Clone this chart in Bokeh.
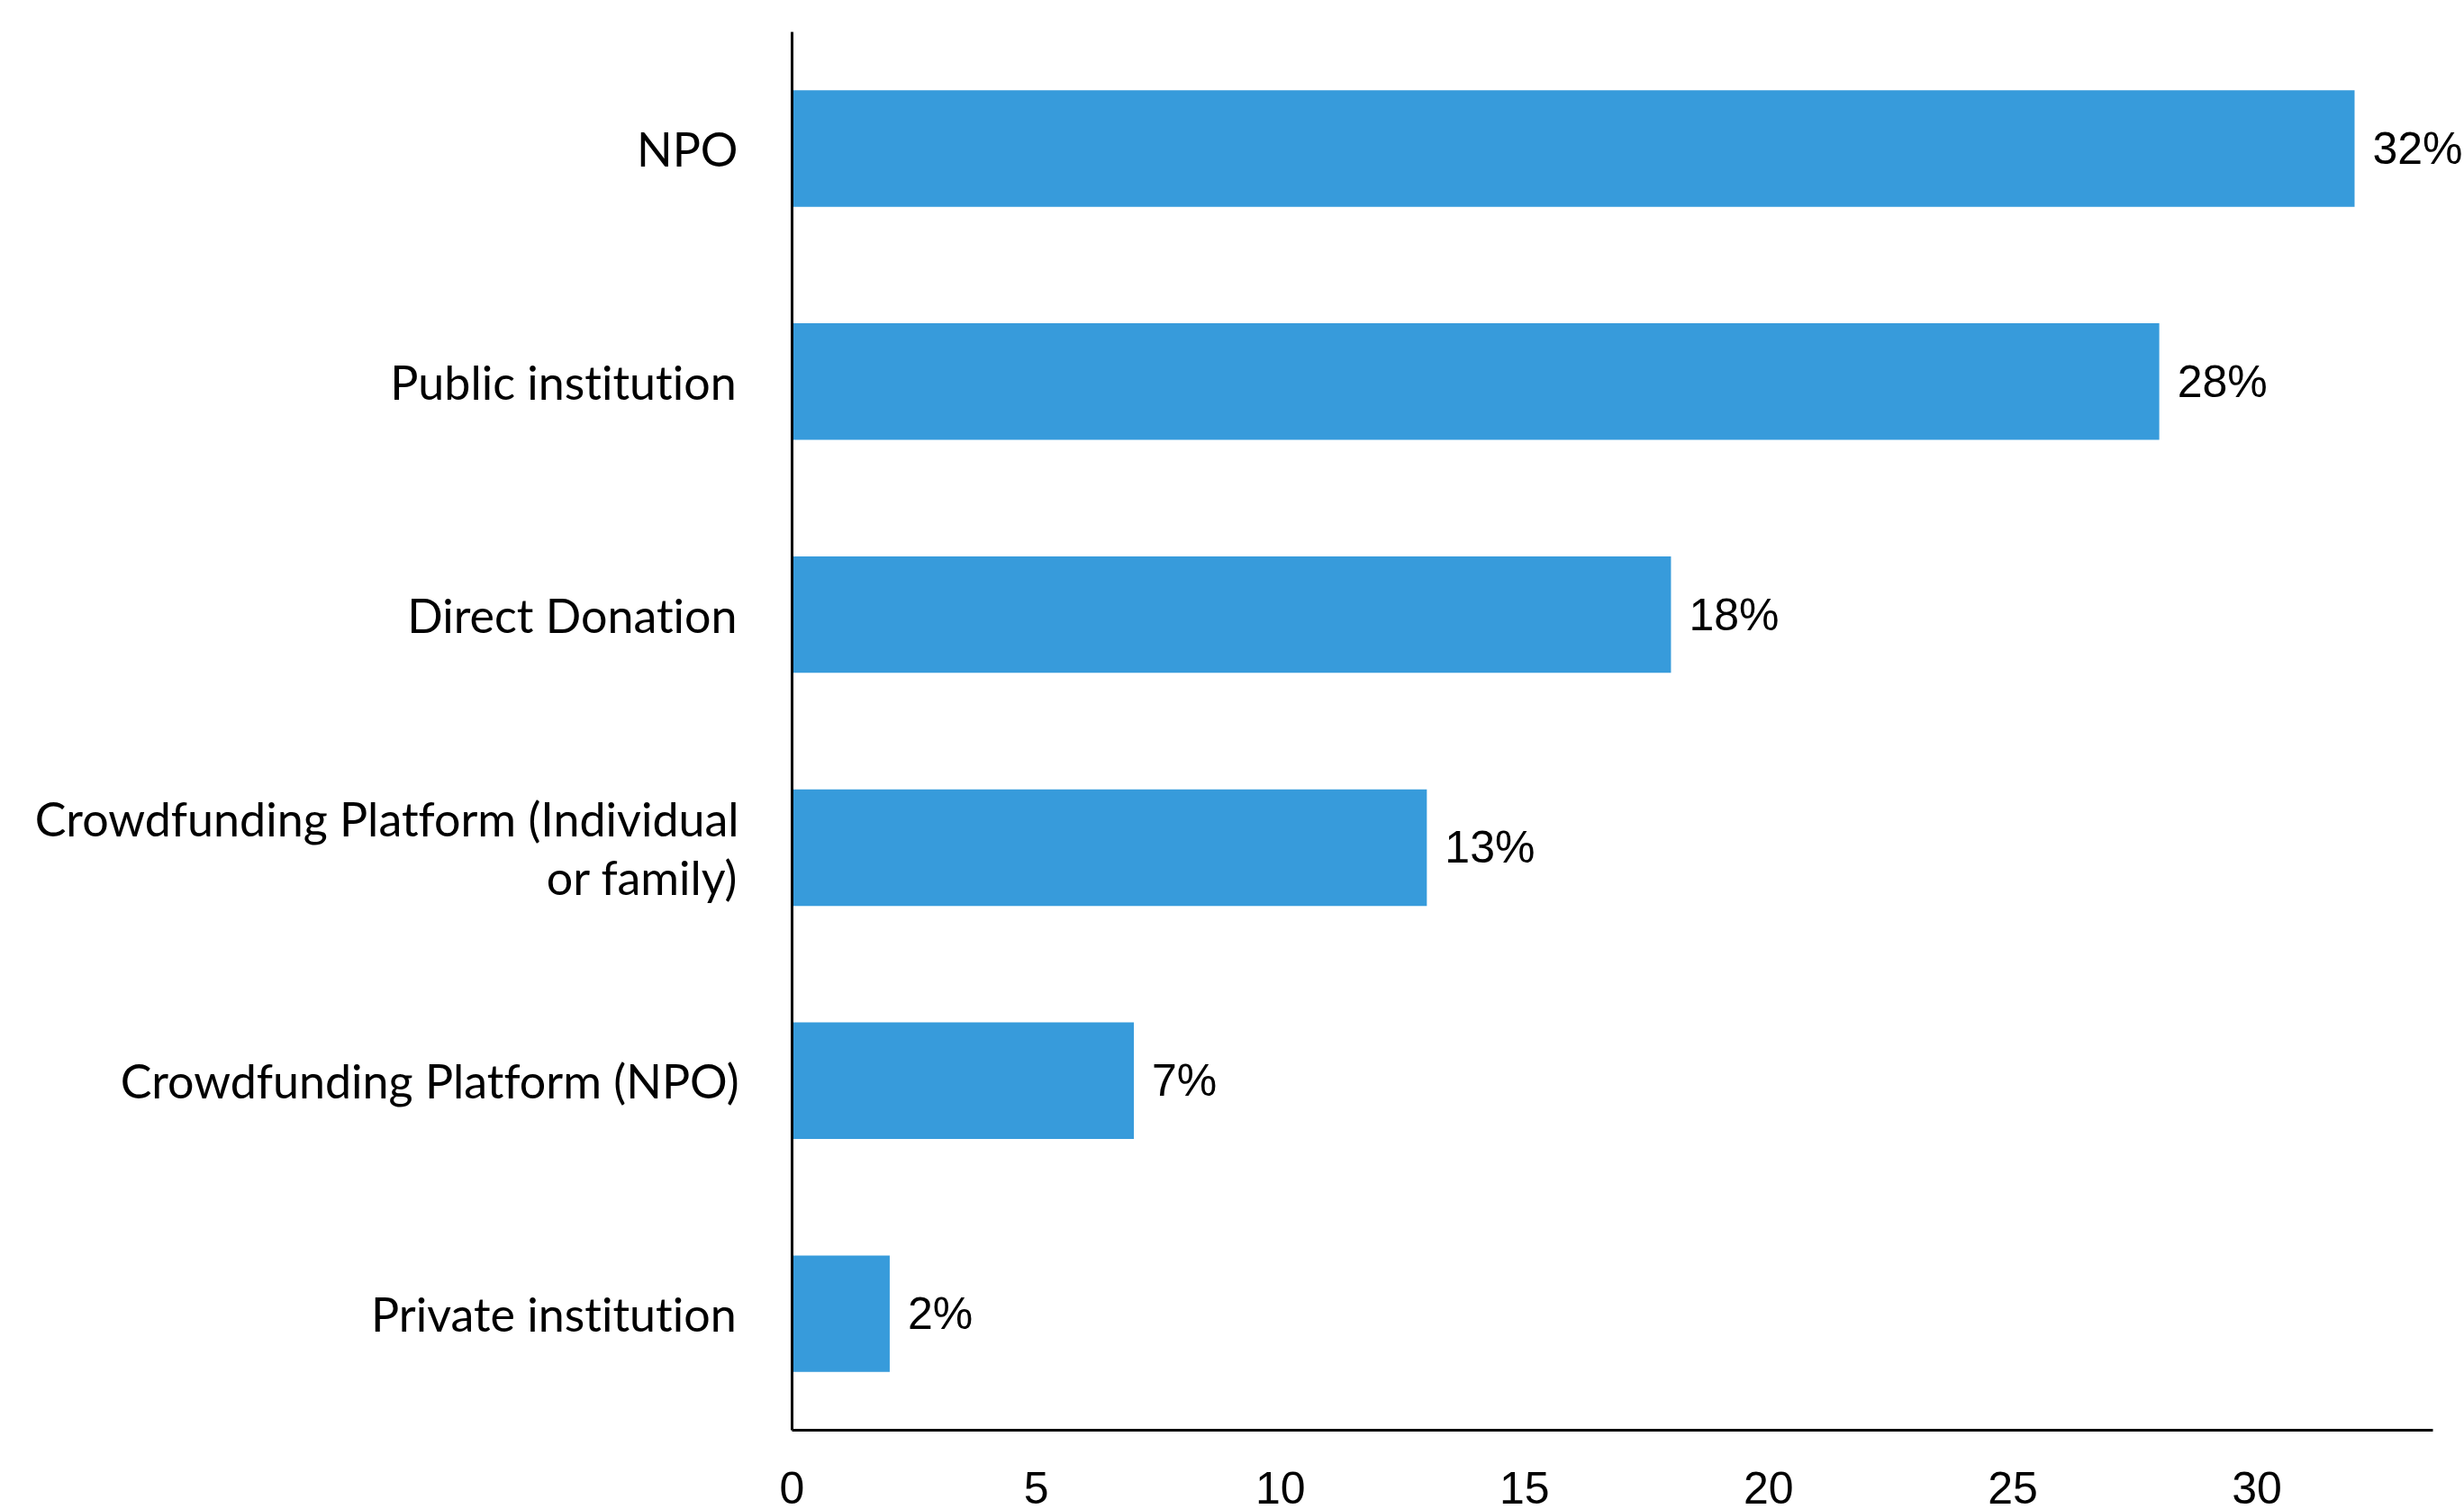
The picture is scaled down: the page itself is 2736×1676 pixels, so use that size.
from bokeh.plotting import figure
from bokeh.models import Range1d, FixedTicker, ColumnDataSource, LabelSet
from bokeh.core.properties import value
from bokeh.embed import file_html
from bokeh.resources import INLINE

categories = ["Private institution", "Crowdfunding Platform (NPO)",
              "Crowdfunding Platform (Individual\nor family)", "Direct Donation",
              "Public institution", "NPO"]
values = [2, 7, 13, 18, 28, 32]
labels = [f"{v}%" for v in values]
x_ticks = [0, 5, 10, 15, 20, 25, 30]
axis_end = 33.6

src = ColumnDataSource(dict(cat=categories, val=values, lab=labels))

p = figure(width=2736, height=1676, y_range=categories, x_range=Range1d(0, 34.25),
           output_backend="svg", toolbar_location=None,
           min_border_left=879, min_border_right=0, min_border_top=35, min_border_bottom=88)
p.outline_line_color = None
p.grid.visible = False
p.background_fill_color = "white"

p.hbar(y="cat", right="val", left=0, height=0.5, source=src,
       fill_color="#379bdb", line_color=None)

lbls = LabelSet(x="val", y="cat", text="lab", source=src, x_offset=20,
                text_baseline="middle", text_align="left",
                text_font=value("Liberation Sans"), text_font_size="50px",
                text_color="black")
p.add_layout(lbls)

p.xaxis.ticker = FixedTicker(ticks=x_ticks)
p.xaxis.bounds = (0, axis_end)
p.xaxis.major_tick_line_color = None
p.xaxis.minor_tick_line_color = None
p.xaxis.axis_line_width = 3
p.xaxis.axis_line_color = "black"
p.xaxis.major_label_text_font = "Liberation Sans"
p.xaxis.major_label_text_font_size = "50px"
p.xaxis.major_label_text_color = "black"
p.xaxis.major_label_standoff = 40

p.yaxis.major_tick_line_color = None
p.yaxis.minor_tick_line_color = None
p.yaxis.axis_line_width = 3
p.yaxis.axis_line_color = "black"
p.yaxis.major_label_text_font = "Lato"
p.yaxis.major_label_text_font_size = "52px"
p.yaxis.major_label_text_line_height = 1.06
p.yaxis.major_label_text_color = "black"
p.yaxis.major_label_standoff = 54
p.yaxis.major_label_text_align = "right"

html = file_html(p, INLINE)
html = html.replace("<head>", "<head><style>html,body{font-variant-ligatures:none;font-feature-settings:'liga' 0;}</style>", 1)
open("out.html", "w").write(html)
